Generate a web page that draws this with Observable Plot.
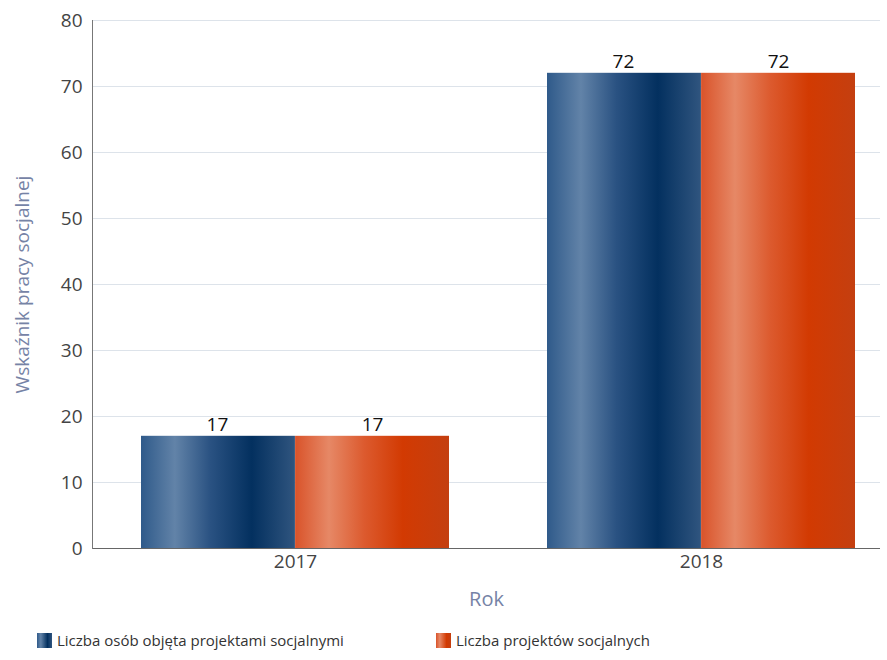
<!DOCTYPE html>
<html><head><meta charset="utf-8">
<script src="https://cdn.jsdelivr.net/npm/d3@7"></script>
<script src="https://cdn.jsdelivr.net/npm/@observablehq/plot@0.6"></script>
<style>
body{margin:0;background:#fff;font-family:"Open Sans",sans-serif;}
#legend{position:absolute;left:0;top:630px;width:887px;font-size:15px;color:#333;}
.item{position:absolute;top:0;display:flex;align-items:center;}
.sw{width:15px;height:15px;margin-right:5px;}
</style></head><body>
<div id="chart"></div>
<div id="legend"></div>
<script>
const years = ["2017", "2018"];
const seriesNames = ["Liczba osób objęta projektami socjalnymi", "Liczba projektów socjalnych"];
const persons = [17, 72];
const projects = [17, 72];
const yTicks = [0, 10, 20, 30, 40, 50, 60, 70, 80];

const data = years.flatMap((y, i) => [
  {year: y, series: seriesNames[0], value: persons[i]},
  {year: y, series: seriesNames[1], value: projects[i]}
]);
const s0 = data.filter(d => d.series === seriesNames[0]);
const s1 = data.filter(d => d.series === seriesNames[1]);

const pInner = 0.241;
const half = 406 * (1 - pInner) / 2;

const chart = Plot.plot({
  width: 887, height: 624,
  marginLeft: 92, marginRight: 7, marginTop: 20, marginBottom: 76,
  style: {fontFamily: "Open Sans, sans-serif", fontSize: "18px", color: "#444", background: "#fff"},
  x: {domain: years, range: [92, 904], paddingInner: pInner, paddingOuter: pInner / 2, label: null},
  y: {domain: [0, 80], ticks: yTicks, label: null},
  marks: [
    Plot.ruleY(yTicks.filter(t => t > 0), {stroke: "#dde3ea", strokeWidth: 1}),
    Plot.barY(s0, {x: "year", y: "value", fill: "url(#gradBlue)", insetRight: half}),
    Plot.barY(s1, {x: "year", y: "value", fill: "url(#gradOrange)", insetLeft: half}),
    Plot.text(s0, {x: "year", y: "value", text: d => String(d.value), dy: -11, dx: -half / 2 - 1, fontSize: 19, fill: "#111"}),
    Plot.text(s1, {x: "year", y: "value", text: d => String(d.value), dy: -11, dx: half / 2, fontSize: 19, fill: "#111"}),
    Plot.ruleY([0], {stroke: "#666", strokeWidth: 1}),
    Plot.axisY({ticks: yTicks, tickSize: 0, tickPadding: 10, fontSize: 19, fill: "#444", label: null}),
    Plot.axisX({tickSize: 0, tickPadding: 6, fontSize: 19, fill: "#444", label: null}),
    Plot.frame({anchor: "left", stroke: "#777"}),
    Plot.text(["Rok"], {frameAnchor: "bottom", dy: 57, fontSize: 20, fill: "#7683a6"}),
    Plot.text(["Wskaźnik pracy socjalnej"], {frameAnchor: "left", dx: -70, rotate: -90, textAnchor: "middle", fontSize: 19, fill: "#7683a6"})
  ]
});

const svg = d3.select(chart);
const defs = svg.insert("defs", ":first-child");
function grad(id, stops) {
  const g = defs.append("linearGradient").attr("id", id).attr("x1", "0%").attr("x2", "100%").attr("y1", "0%").attr("y2", "0%");
  stops.forEach(([o, c]) => g.append("stop").attr("offset", o).attr("stop-color", c));
}
grad("gradBlue", [["0%", "#2f5a8a"], ["22%", "#6283a8"], ["45%", "#2a5282"], ["72%", "#03305f"], ["100%", "#30557f"]]);
grad("gradOrange", [["0%", "#d9532a"], ["22%", "#e68866"], ["45%", "#dc5a2e"], ["70%", "#d23a02"], ["100%", "#c43f10"]]);
document.getElementById("chart").appendChild(chart);

const legend = document.getElementById("legend");
const lx = [37, 436];
const lfill = ["linear-gradient(90deg,#2f5a8a,#6283a8 25%,#03305f 70%,#30557f)", "linear-gradient(90deg,#d9532a,#e68866 25%,#d23a02 70%,#c43f10)"];
seriesNames.forEach((n, i) => {
  const it = document.createElement("div");
  it.className = "item"; it.style.left = lx[i] + "px";
  const sw = document.createElement("div"); sw.className = "sw"; sw.style.background = lfill[i];
  const t = document.createElement("span"); t.textContent = n;
  it.appendChild(sw); it.appendChild(t); legend.appendChild(it);
});
</script>
</body></html>
